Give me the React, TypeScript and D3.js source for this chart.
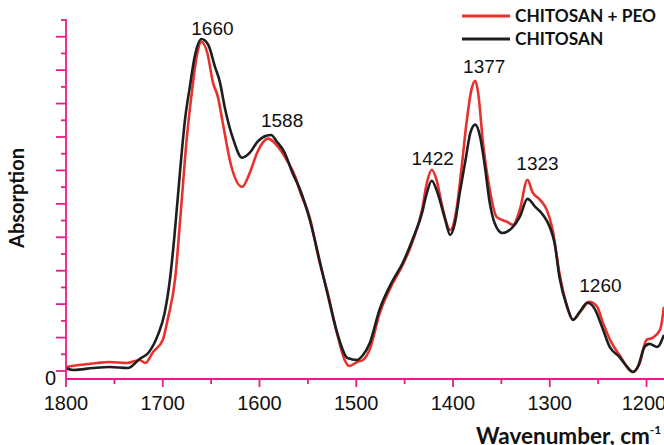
import React, { useEffect, useRef } from 'react';
import * as d3 from 'd3';

// FTIR spectra (wavenumber cm-1 / absorption, arbitrary units)
const chitosanWn = [
  1800, 1792, 1772, 1755, 1736, 1724, 1715, 1705, 1698, 1693, 1688, 1682, 1677, 1672, 1667, 1660,
  1653, 1646, 1641, 1636, 1627, 1618, 1610, 1602, 1593, 1588, 1582, 1574, 1566, 1558, 1548, 1538,
  1529, 1520, 1509, 1499, 1493, 1486, 1476, 1463, 1452, 1442, 1432, 1427, 1422, 1416, 1408, 1403,
  1398, 1393, 1387, 1382, 1377, 1372, 1367, 1362, 1357, 1349, 1339, 1331, 1323, 1315, 1307, 1300,
  1295, 1290, 1282, 1276, 1269, 1261, 1253, 1246, 1238, 1228, 1219, 1214, 1209, 1202, 1197, 1189, 1182,
];
const chitosanAbs = [
  0.008, 0.003, 0.009, 0.012, 0.009, 0.036, 0.054, 0.108, 0.174, 0.264, 0.401, 0.602, 0.752, 0.85, 0.94, 0.993,
  0.976, 0.91, 0.865, 0.79, 0.692, 0.638, 0.653, 0.686, 0.704, 0.706, 0.686, 0.653, 0.593, 0.542, 0.452, 0.332,
  0.222, 0.117, 0.039, 0.033, 0.048, 0.084, 0.183, 0.267, 0.323, 0.392, 0.473, 0.533, 0.569, 0.533, 0.452, 0.407,
  0.443, 0.533, 0.632, 0.713, 0.737, 0.701, 0.611, 0.503, 0.443, 0.413, 0.428, 0.461, 0.515, 0.491, 0.467, 0.431,
  0.383, 0.281, 0.192, 0.153, 0.177, 0.204, 0.183, 0.132, 0.072, 0.042, 0.009, -0.003, 0.012, 0.072, 0.081, 0.072, 0.108,
];

const peoWn = [
  1800, 1786, 1768, 1755, 1737, 1724, 1718, 1710, 1700, 1695, 1687, 1682, 1675, 1670, 1665, 1660,
  1654, 1648, 1643, 1638, 1629, 1618, 1610, 1602, 1591, 1581, 1572, 1563, 1558, 1548, 1538, 1529,
  1520, 1512, 1507, 1499, 1493, 1486, 1476, 1462, 1452, 1442, 1432, 1427, 1422, 1417, 1411, 1403,
  1396, 1391, 1386, 1381, 1377, 1374, 1369, 1362, 1355, 1344, 1338, 1331, 1323, 1318, 1310, 1303,
  1297, 1290, 1282, 1276, 1267, 1259, 1251, 1245, 1236, 1228, 1214, 1207, 1200, 1194, 1186, 1182,
];
const peoAbs = [
  0.012, 0.018, 0.024, 0.027, 0.024, 0.033, 0.024, 0.057, 0.093, 0.153, 0.281, 0.452, 0.701, 0.832, 0.94, 0.985,
  0.952, 0.862, 0.82, 0.743, 0.611, 0.551, 0.593, 0.656, 0.695, 0.671, 0.632, 0.581, 0.536, 0.458, 0.326, 0.228,
  0.114, 0.033, 0.015, 0.027, 0.033, 0.065, 0.171, 0.264, 0.317, 0.386, 0.482, 0.563, 0.602, 0.572, 0.491, 0.422,
  0.491, 0.611, 0.743, 0.841, 0.868, 0.832, 0.683, 0.542, 0.461, 0.446, 0.437, 0.482, 0.572, 0.536, 0.512, 0.482,
  0.422, 0.293, 0.192, 0.153, 0.183, 0.207, 0.192, 0.144, 0.084, 0.048, -0.003, 0.024, 0.093, 0.099, 0.123, 0.192,
];

const peakLabels = [1660, 1588, 1422, 1377, 1323, 1260];
const xTicks = [1800, 1700, 1600, 1500, 1400, 1300, 1200];
const xMinorTicks = [1750, 1650, 1550, 1450, 1350, 1250];
const yTicks = [0, 0.1, 0.2, 0.3, 0.4, 0.5, 0.6, 0.7, 0.8, 0.9, 1.0];
const yMinorTicks = [0.05, 0.15, 0.25, 0.35, 0.45, 0.55, 0.65, 0.75, 0.85, 0.95, 1.05];
const seriesNames = ['CHITOSAN + PEO', 'CHITOSAN'];

const RED = '#e8312c';
const BLACK = '#1e1e1e';
const AXIS = '#ec1a8c';
const NARROW = '"Liberation Sans Narrow", "Liberation Sans", Arial, sans-serif';
const BOLD = 'Lato, "Open Sans", sans-serif';

// nudges for the peak numbers (dx, dy from the peak top)
const labelNudge: Record<number, [number, number]> = {
  1660: [11, -4], 1588: [11, -8], 1422: [1, -5], 1377: [9, -8], 1323: [10, -10], 1260: [12, -10],
};

export default function App() {
  const ref = useRef<SVGSVGElement>(null);

  useEffect(() => {
    if (!ref.current) return;
    const svg = d3.select(ref.current);
    svg.selectAll('*').remove();

    const width = 664;
    const left = 66;
    const axisY = 379;
    const top = 19;

    const x = d3.scaleLinear().domain([1800, 1200]).range([left, 646.5]);
    const y = d3.scaleLinear().domain([0, 1.05]).range([371, 20]);

    svg.append('defs').append('clipPath').attr('id', 'plot')
      .append('rect').attr('x', left).attr('y', 0).attr('width', width - left).attr('height', axisY);

    const line = (wn: number[]) => d3.line<number>()
      .x((_, i) => x(wn[i]))
      .y(d => y(d))
      .curve(d3.curveMonotoneX);

    const g = svg.append('g').attr('clip-path', 'url(#plot)');
    g.append('path').datum(peoAbs).attr('d', line(peoWn)).attr('fill', 'none')
      .attr('stroke', RED).attr('stroke-width', 2.6).attr('stroke-linejoin', 'round');
    g.append('path').datum(chitosanAbs).attr('d', line(chitosanWn)).attr('fill', 'none')
      .attr('stroke', BLACK).attr('stroke-width', 2.6).attr('stroke-linejoin', 'round');

    // y axis
    const ya = svg.append('g').attr('stroke', AXIS).attr('stroke-width', 1.8);
    ya.append('line').attr('x1', left).attr('x2', left).attr('y1', top).attr('y2', axisY);
    ya.selectAll('.ymaj').data(yTicks).enter().append('line')
      .attr('x1', left - 10).attr('x2', left).attr('y1', d => y(d)).attr('y2', d => y(d));
    ya.selectAll('.ymin').data(yMinorTicks).enter().append('line')
      .attr('x1', left - 5).attr('x2', left).attr('y1', d => y(d)).attr('y2', d => y(d));

    // x axis
    const xa = svg.append('g').attr('stroke', AXIS).attr('stroke-width', 1.8);
    xa.append('line').attr('x1', left).attr('x2', width).attr('y1', axisY).attr('y2', axisY);
    xa.selectAll('.xmaj').data(xTicks).enter().append('line')
      .attr('x1', d => x(d)).attr('x2', d => x(d)).attr('y1', axisY).attr('y2', axisY + 8);
    xa.selectAll('.xmin').data(xMinorTicks).enter().append('line')
      .attr('x1', d => x(d)).attr('x2', d => x(d)).attr('y1', axisY).attr('y2', axisY + 5);

    svg.selectAll('.xlab').data(xTicks).enter().append('text')
      .attr('x', d => Math.min(x(d), 644)).attr('y', 410).attr('text-anchor', 'middle')
      .attr('font-family', NARROW).attr('font-size', 20).attr('fill', '#111')
      .text(d => d);

    svg.append('text').attr('x', 56).attr('y', 385).attr('text-anchor', 'end')
      .attr('font-family', NARROW).attr('font-size', 20).attr('fill', '#111').text('0');

    // peak numbers
    const peakTop = (p: number) => d3.max([
      ...chitosanAbs.filter((_, i) => Math.abs(chitosanWn[i] - p) <= 3),
      ...peoAbs.filter((_, i) => Math.abs(peoWn[i] - p) <= 3),
    ]) || 0;
    svg.selectAll('.peak').data(peakLabels).enter().append('text')
      .attr('x', d => x(d) + labelNudge[d][0])
      .attr('y', d => y(peakTop(d)) + labelNudge[d][1])
      .attr('text-anchor', 'middle').attr('font-family', NARROW).attr('font-size', 19)
      .attr('fill', '#111').text(d => d);

    // legend
    const colors = [RED, BLACK];
    const lg = svg.append('g');
    seriesNames.forEach((name, i) => {
      const ly = 16 + i * 23;
      lg.append('line').attr('x1', 462).attr('x2', 510).attr('y1', ly).attr('y2', ly)
        .attr('stroke', colors[i]).attr('stroke-width', 3);
      lg.append('text').attr('x', 515).attr('y', ly + 6).attr('font-family', BOLD)
        .attr('font-weight', 700).attr('font-size', 17.3).attr('fill', '#111').text(name);
    });

    // axis titles
    svg.append('text').attr('transform', 'translate(24,198) rotate(-90)')
      .attr('text-anchor', 'middle').attr('font-family', BOLD).attr('font-weight', 700)
      .attr('font-size', 20).attr('fill', '#111').text('Absorption');

    const xt = svg.append('text').attr('x', 476).attr('y', 444).attr('font-family', BOLD)
      .attr('font-weight', 700).attr('font-size', 22.5).attr('fill', '#111');
    xt.append('tspan').text('Wavenumber, cm');
    xt.append('tspan').attr('dy', -10).attr('font-size', 12).text('-1');
  }, []);

  return (
    <svg ref={ref} width={664} height={445}
      style={{ position: 'absolute', left: 0, top: 0, background: '#fff' }} />
  );
}
